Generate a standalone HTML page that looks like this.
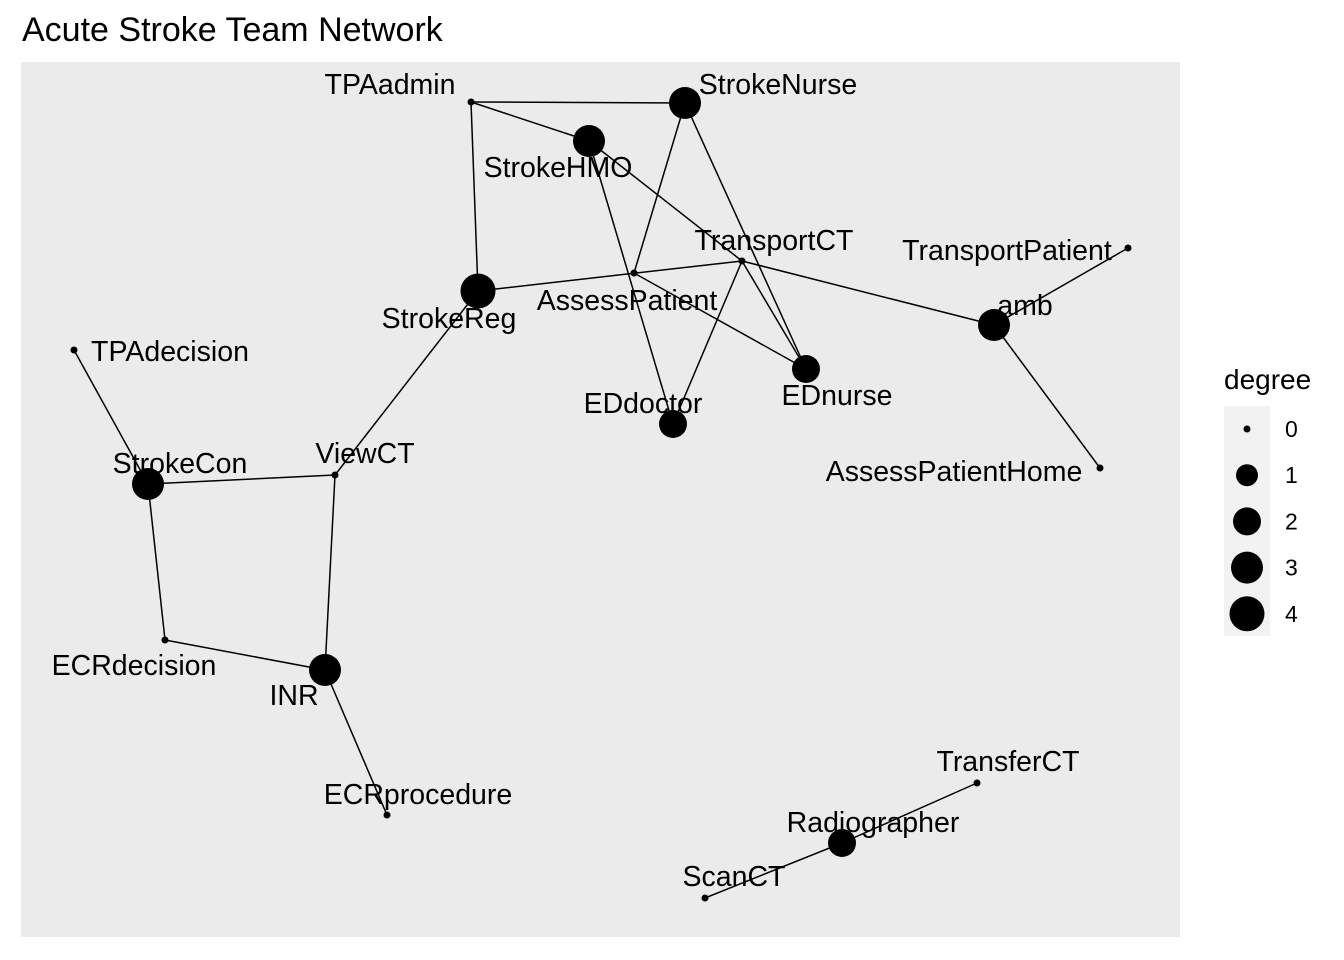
<!DOCTYPE html>
<html><head><meta charset="utf-8"><style>body{margin:0;background:#fff}svg{display:block;font-family:"Liberation Sans",Arial,sans-serif}</style></head>
<body>
<svg id="chart" width="1344" height="960" viewBox="0 0 1344 960">
<rect x="0" y="0" width="1344" height="960" fill="#fff"/>
<text x="22" y="41" font-size="34" fill="#000">Acute Stroke Team Network</text>
<rect x="21" y="62" width="1159" height="875" fill="#ebebeb"/>
<g id="edges"></g>
<g id="nodes"></g>
<g id="labels"></g>
<g>
<text x="1224" y="389" font-size="28" fill="#000">degree</text>
<rect x="1224" y="406" width="46" height="230" fill="#f2f2f2"/>
<g id="legend-items"></g>
</g>
</svg>
<script>
const nodeNames = ["TPAadmin","StrokeNurse","StrokeHMO","TransportCT","AssessPatient","StrokeReg","EDnurse","EDdoctor","amb","TransportPatient","AssessPatientHome","TPAdecision","StrokeCon","ViewCT","ECRdecision","INR","ECRprocedure","TransferCT","Radiographer","ScanCT"];
const nodeX = [471,685,589,742,634,478,806,673,994,1128,1100,74,148,335,165,325,387,977,842,705];
const nodeY = [102,103,141,261,273,291,369,424,325,248,468,350,484,475,640,670,815,783,843,898];
const nodeDegree = [0,3,3,0,0,4,2,2,3,0,0,0,3,0,0,3,0,0,2,0];
const labelX = [390,778,558,774,627,449,837,643,1025,1007,954,170,180,365,134,294,418,1008,873,734];
const labelY = [84,84,167,240,300,318,395,403,305,250,471,351,463,453,665,695,794,761,822,876];
const edgeFrom = ["TPAadmin","TPAadmin","TPAadmin","StrokeHMO","StrokeHMO","StrokeNurse","StrokeNurse","StrokeReg","AssessPatient","TransportCT","TransportCT","TransportCT","amb","amb","StrokeReg","TPAdecision","StrokeCon","StrokeCon","ViewCT","ECRdecision","INR","TransferCT","Radiographer"];
const edgeTo = ["StrokeNurse","StrokeHMO","StrokeReg","TransportCT","EDdoctor","AssessPatient","EDnurse","TransportCT","EDnurse","EDdoctor","EDnurse","amb","TransportPatient","AssessPatientHome","ViewCT","StrokeCon","ViewCT","ECRdecision","INR","INR","ECRprocedure","Radiographer","ScanCT"];
const legendDegrees = [0,1,2,3,4];
const NS="http://www.w3.org/2000/svg";
function rScale(d){return [3.5,11,14,16,17.5][d];}
function idx(n){return nodeNames.indexOf(n);}
const eg=document.getElementById('edges');
for(let i=0;i<edgeFrom.length;i++){
 const a=idx(edgeFrom[i]),b=idx(edgeTo[i]);
 const l=document.createElementNS(NS,'line');
 
 
 l.setAttribute('x1',nodeX[a]);l.setAttribute('y1',nodeY[a]);l.setAttribute('x2',nodeX[b]);l.setAttribute('y2',nodeY[b]);
 l.setAttribute('stroke','#000');l.setAttribute('stroke-width','1.5');
 eg.appendChild(l);
}
const ng=document.getElementById('nodes'),lg=document.getElementById('labels');
for(let i=0;i<nodeNames.length;i++){
 const c=document.createElementNS(NS,'circle');
 
 
 c.setAttribute('cx',nodeX[i]);c.setAttribute('cy',nodeY[i]);c.setAttribute('r',rScale(nodeDegree[i]));c.setAttribute('fill','#000');
 ng.appendChild(c);
 const t=document.createElementNS(NS,'text');
 
 
 t.setAttribute('x',labelX[i]);t.setAttribute('y',labelY[i]+10);t.setAttribute('text-anchor','middle');t.setAttribute('font-size','28.5');
 t.textContent=nodeNames[i];
 lg.appendChild(t);
}
const li=document.getElementById('legend-items');
for(let k=0;k<legendDegrees.length;k++){
 const y=429+k*46.2;
 const c=document.createElementNS(NS,'circle');
 
 
 c.setAttribute('cx',1247);c.setAttribute('cy',y);c.setAttribute('r',rScale(legendDegrees[k]));c.setAttribute('fill','#000');
 li.appendChild(c);
 const t=document.createElementNS(NS,'text');
 
 
 t.setAttribute('x',1285);t.setAttribute('y',y+8);t.setAttribute('font-size','23');
 t.textContent=String(legendDegrees[k]);
 li.appendChild(t);
}
</script>
</body></html>
